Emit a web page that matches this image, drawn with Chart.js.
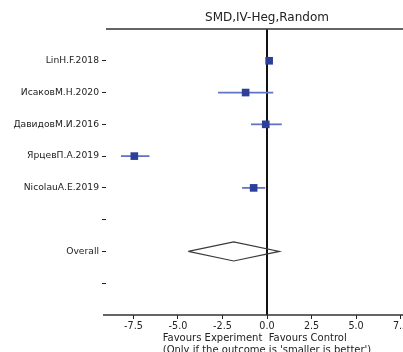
<!DOCTYPE html>
<html>
<head>
<meta charset="utf-8">
<script src="https://cdn.jsdelivr.net/npm/chart.js@4"></script>
<style>
  html, body { margin: 0; padding: 0; background: #fff; overflow: hidden; }
  #wrap { width: 403px; height: 352px; overflow: hidden; }
</style>
</head>
<body>
<div id="wrap"><canvas id="chart" width="460" height="370"></canvas></div>
<script>
// rows of the forest plot, top to bottom
const rowLabels = ["LinH.F.2018", "ИсаковМ.Н.2020", "ДавидовМ.И.2016", "ЯрцевП.А.2019", "NicolauA.E.2019", "", "Overall", ""];
const rowPos = [1, 2, 3, 4, 5, 6, 7, 8];

// study effects (SMD) and confidence limits
const estimates = [0.12, -1.2, -0.07, -7.45, -0.75];
const ciLow = [-0.05, -2.75, -0.9, -8.2, -1.4];
const ciHigh = [0.3, 0.35, 0.83, -6.6, -0.1];

// pooled estimate
const overallEst = -1.87;
const overallLow = -4.42;
const overallHigh = 0.69;
const overallRow = 7;

const xTicks = [-7.5, -5.0, -2.5, 0.0, 2.5, 5.0, 7.5];
const xLabel = ["Favours Experiment  Favours Control", "(Only if the outcome is 'smaller is better')"];

const font = '"DejaVu Sans", sans-serif';
const textColor = "#222";

const squares = {
  label: "studies",
  data: estimates.map((v, i) => ({ x: v, y: rowPos[i] })),
  pointStyle: "rect",
  pointRadius: 5.4,
  backgroundColor: "#2c3f99",
  borderColor: "#2c3f99",
  borderWidth: 0,
  order: 0,
};

const errorBars = estimates.map((v, i) => ({
  label: "ci" + i,
  data: [{ x: ciLow[i], y: rowPos[i] }, { x: ciHigh[i], y: rowPos[i] }],
  showLine: true,
  pointRadius: 0,
  borderColor: "#6474c4",
  borderWidth: 1.8,
  order: 1,
}));

const h = 0.3;
const diamond = {
  label: "overall",
  data: [
    { x: overallLow, y: overallRow },
    { x: overallEst, y: overallRow - h },
    { x: overallHigh, y: overallRow },
    { x: overallEst, y: overallRow + h },
    { x: overallLow, y: overallRow },
  ],
  showLine: true,
  pointRadius: 0,
  borderColor: "#3a3a3a",
  borderWidth: 1.2,
  fill: false,
  order: 2,
};

const zeroLine = {
  label: "zero",
  data: [{ x: 0, y: 0 }, { x: 0, y: 9 }],
  showLine: true,
  pointRadius: 0,
  borderColor: "#111",
  borderWidth: 2,
  order: 3,
};

const spines = {
  id: "spines",
  afterDraw(chart) {
    const { ctx, chartArea: a } = chart;
    ctx.save();
    ctx.strokeStyle = "#333";
    ctx.lineWidth = 1.3;
    ctx.beginPath();
    ctx.moveTo(a.left, a.top);
    ctx.lineTo(a.right, a.top);
    ctx.moveTo(a.left - 3, a.bottom);
    ctx.lineTo(a.right, a.bottom);
    ctx.stroke();
    // x label: block centred under the axis, lines left aligned
    ctx.font = "10px " + font;
    ctx.fillStyle = textColor;
    ctx.textAlign = "left";
    ctx.textBaseline = "middle";
    const w = Math.max(...xLabel.map((t) => ctx.measureText(t).width));
    const x0 = (a.left + a.right) / 2 - w / 2;
    xLabel.forEach((t, i) => ctx.fillText(t, x0, a.bottom + 23.3 + i * 12));
    ctx.restore();
  },
};

new Chart(document.getElementById("chart"), {
  type: "scatter",
  data: { datasets: [squares, ...errorBars, diamond, zeroLine] },
  options: {
    responsive: false,
    animation: false,
    devicePixelRatio: 1,
    layout: { padding: { left: 0, right: 32, top: 0, bottom: 0 } },
    plugins: {
      legend: { display: false },
      tooltip: { enabled: false },
      title: {
        display: true,
        fullSize: false,
        text: "SMD,IV-Heg,Random",
        color: textColor,
        font: { family: font, size: 12, weight: "normal" },
        padding: { top: 11, bottom: 3.6 },
      },
    },
    scales: {
      x: {
        type: "linear",
        min: -9.04,
        max: 9.04,
        afterBuildTicks: (s) => { s.ticks = xTicks.map((v) => ({ value: v })); },
        afterFit: (s) => { s.height = 55; },
        border: { display: false },
        grid: { drawOnChartArea: false, drawTicks: true, tickLength: 4, color: textColor },
        ticks: {
          padding: 2,
          maxRotation: 0,
          color: textColor,
          font: { family: font, size: 9.6 },
          callback: (v) => Number(v).toFixed(1),
        },
      },
      y: {
        type: "linear",
        min: 0,
        max: 9,
        reverse: true,
        afterBuildTicks: (s) => { s.ticks = rowPos.map((v) => ({ value: v })); },
        afterFit: (s) => { s.width = 106; },
        border: { display: false },
        grid: { drawOnChartArea: false, drawTicks: true, tickLength: 4, color: textColor },
        ticks: {
          padding: 3,
          color: textColor,
          font: { family: font, size: 9.2 },
          callback: (v) => rowLabels[rowPos.indexOf(v)],
        },
      },
    },
  },
  plugins: [spines],
});
</script>
</body>
</html>
